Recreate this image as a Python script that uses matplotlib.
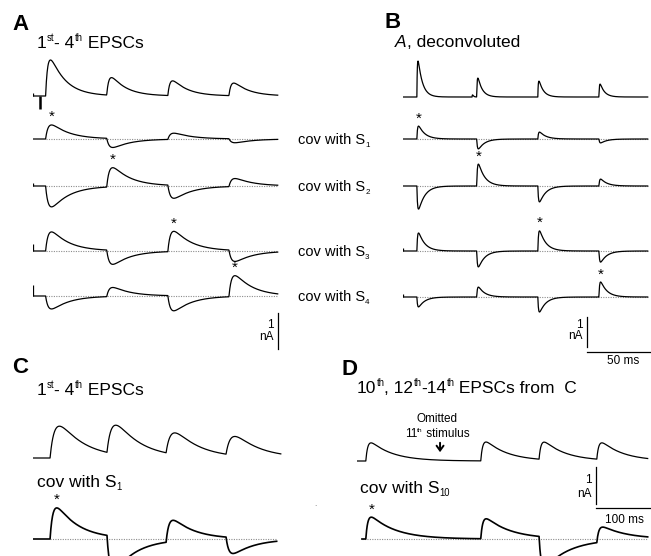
import numpy as np
import matplotlib.pyplot as plt

plt.rcParams['font.family'] = 'Liberation Sans'
plt.rcParams['mathtext.fontset'] = 'custom'
plt.rcParams['mathtext.rm'] = 'Liberation Sans'
plt.rcParams['mathtext.it'] = 'Liberation Sans:italic'
plt.rcParams['mathtext.default'] = 'regular'

# --- данные (мс, нА) ---
# A: 1-4 EPSC и ковариации с S1..S4
a_onsets = [10, 58.5, 107, 155.5]
a_epsc = [1.0, 0.49, 0.41, 0.35]
a_cov = [[0.39, -0.25, 0.17, -0.11],
         [-0.58, 0.53, -0.36, 0.22],
         [0.53, -0.39, 0.56, -0.31],
         [-0.36, 0.25, -0.42, 0.58]]
a_stub = [0, 0.08, 0.19, 0.3]
a_artifact = -0.36

# B: то же после деконволюции
b_onsets = [11, 58.5, 107, 155.5]
b_epsc = [1.2, 0.63, 0.53, 0.43]
b_cov = [[0.43, -0.33, 0.23, -0.13],
         [-0.77, 0.73, -0.53, 0.23],
         [0.6, -0.53, 0.67, -0.37],
         [-0.33, 0.33, -0.5, 0.5]]
b_stub = [0, 0, 0.1, 0.1]
b_glitch_t, b_glitch_amp = 54.8, 0.07

# C: 1-4 EPSC (10 Гц) и ковариация с S1
c_onsets = [31, 134.5, 242, 351]
c_epsc = [0.86, 0.78, 0.58, 0.51]
c_cov = [0.84, -0.9, 0.57, -0.43]

# D: 10, 12-14 EPSC, пропущенный 11-й стимул
d_onsets = [16, 225, 331, 436]
d_epsc = [0.49, 0.51, 0.47, 0.45]
d_cov = [0.59, 0.54, -0.8, 0.4]
d_omitted = 151

W, H = 651, 556
fig = plt.figure(figsize=(W / 100, H / 100), dpi=100)
renderer = fig.canvas.get_renderer()


def ptext(x, y, s, **kw):
    return fig.text(x / W, 1 - y / H, s, **kw)


def rich(x, y, parts, size, ha='left'):
    # parts: (строка, вид) вид: 'n' обычный, 'sup', 'sub', 'it'
    px = size * 100 / 72
    items = []
    for s, kind in parts:
        fs = size * 0.55 if kind in ('sup', 'sub') else size
        dy = {'sup': -0.4 * px, 'sub': 0.18 * px}.get(kind, 0)
        t = ptext(0, y + dy, s, fontsize=fs, va='baseline',
                  style='italic' if kind == 'it' else 'normal')
        items.append(t)
    widths = [t.get_window_extent(renderer=renderer).width for t in items]
    cx = x - (sum(widths) / 2 if ha == 'center' else 0)
    for t, w in zip(items, widths):
        t.set_x(cx / W)
        cx += w


def make_axes(x0, x1, y0, y1, px_ms, px_na):
    ax = fig.add_axes([x0 / W, 1 - y1 / H, (x1 - x0) / W, (y1 - y0) / H])
    ax.set_xlim(0, (x1 - x0) / px_ms)
    ax.set_ylim(0, (y1 - y0) / px_na)
    ax.axis('off')
    return ax


def trace(t, onsets, amps, tr, td):
    # сумма событий: подъём tr, спад td, амплитуда = пик
    sp = tr * np.log((tr + td) / tr)
    norm = (1 - np.exp(-sp / tr)) * np.exp(-sp / td)
    y = np.zeros_like(t)
    for t0, a in zip(onsets, amps):
        s = np.clip(t - t0, 0, None)
        y += a * (1 - np.exp(-s / tr)) * np.exp(-s / td) / norm
    return y


def star(ax, t, y, base, t0, win):
    m = (t >= t0) & (t <= t0 + win)
    i = np.argmax(y[m])
    ax.annotate('*', (t[m][i], base + y[m][i]), xytext=(0, 0.5), textcoords='offset points',
                ha='center', va='bottom', fontsize=11)


def dotted(ax, t0, t1, base):
    ax.plot([t0, t1], [base, base], color='0.55', lw=0.8, ls=(0, (1, 1.2)))


LW = 0.9

# ---------------- A ----------------
A_Y1, A_NA = 356, 36
axA = make_axes(33, 290, 50, A_Y1, 1.26, A_NA)
tA = np.arange(0, 194.4, 0.2)
rows_px = [96, 139, 186, 251, 296]
base = (A_Y1 - rows_px[0]) / A_NA
axA.plot(tA, base + trace(tA, a_onsets, a_epsc, 2.0, 12), color='k', lw=LW)
axA.vlines(0, base, base + 0.08, color='k', lw=LW)
axA.vlines(5.5, base + a_artifact, base, color='k', lw=1.8)
for i, amps in enumerate(a_cov):
    b = (A_Y1 - rows_px[i + 1]) / A_NA
    y = trace(tA, a_onsets, amps, 2.5, 14)
    dotted(axA, a_onsets[0], tA[-1], b)
    axA.plot(tA, b + y, color='k', lw=LW)
    if a_stub[i]:
        axA.vlines(0, b, b + a_stub[i], color='k', lw=LW)
    star(axA, tA, y, b, a_onsets[i], 25)
    rich(298, rows_px[i + 1] + 5, [('cov with S', 'n'), (str(i + 1), 'sub')], 10.5)
# масштаб 1 нА
sb = (A_Y1 - 349) / A_NA
axA.plot([tA[-1], tA[-1]], [sb, sb + 1], color='k', lw=0.9)
ptext(274, 325, '1', fontsize=8.5, ha='right', va='center')
ptext(274, 337, 'nA', fontsize=8.5, ha='right', va='center')

# ---------------- B ----------------
B_Y1, B_NA = 356, 30
axB = make_axes(403, 651, 50, B_Y1, 1.26, B_NA)
tB = np.arange(0, 194.4, 0.2)
rows_px = [97, 139, 186, 251, 297]
base = (B_Y1 - rows_px[0]) / B_NA
yB = trace(tB, b_onsets, b_epsc, 0.4, 3.5) + trace(tB, [b_glitch_t], [b_glitch_amp], 0.3, 0.8)
axB.plot(tB, base + yB, color='k', lw=LW)
for i, amps in enumerate(b_cov):
    b = (B_Y1 - rows_px[i + 1]) / B_NA
    y = trace(tB, b_onsets, amps, 0.6, 5)
    dotted(axB, b_onsets[0], tB[-1], b)
    axB.plot(tB, b + y, color='k', lw=LW)
    if b_stub[i]:
        axB.vlines(0, b, b + b_stub[i], color='k', lw=LW)
    star(axB, tB, y, b, b_onsets[i], 15)
# масштаб 1 нА / 50 мс
tb = (587 - 403) / 1.26
sb = (B_Y1 - 347) / B_NA
axB.plot([tb, tb], [sb, sb + 1], color='k', lw=0.9)
hb = (B_Y1 - 352) / B_NA
axB.plot([tb, tb + 50], [hb, hb], color='k', lw=0.9)
ptext(583, 325, '1', fontsize=8.5, ha='right', va='center')
ptext(583, 336, 'nA', fontsize=8.5, ha='right', va='center')
ptext(623, 361, '50 ms', fontsize=8.5, ha='center', va='center')

# ---------------- C ----------------
C_Y1, C_NA = 620, 37
axC = make_axes(33, 330, 400, C_Y1, 0.55, C_NA)
tC = np.arange(0, 451, 0.5)
base = (C_Y1 - 458) / C_NA
axC.plot(tC, base + trace(tC, c_onsets, c_epsc, 10, 45), color='k', lw=LW)
b = (C_Y1 - 539) / C_NA
tc = tC[tC <= 443]
y = trace(tc, c_onsets, c_cov, 6, 40)
dotted(axC, c_onsets[0], tc[-1], b)
axC.plot(tc, b + y, color='k', lw=1.2)
star(axC, tc, y, b, c_onsets[0], 40)
ptext(315, 506, '.', fontsize=6, color='0.4', ha='center')

# ---------------- D ----------------
D_Y1, D_NA = 620, 37
axD = make_axes(357, 651, 400, D_Y1, 0.55, D_NA)
tD = np.arange(0, 529, 0.5)
base = (D_Y1 - 461) / D_NA
axD.plot(tD, base + trace(tD, d_onsets, d_epsc, 4, 40), color='k', lw=LW)
axD.annotate('', xy=(d_omitted, (D_Y1 - 455) / D_NA), xytext=(d_omitted, (D_Y1 - 440) / D_NA),
             arrowprops=dict(arrowstyle='->, head_width=0.25, head_length=0.35', lw=1.4, color='k'))
b = (D_Y1 - 539) / D_NA
td_ = tD[tD >= 9]
y = trace(td_, d_onsets, d_cov, 4, 45)
dotted(axD, td_[0], td_[-1], b)
axD.plot(td_, b + y, color='k', lw=1.2)
star(axD, td_, y, b, d_onsets[0], 30)
# масштаб 1 нА / 100 мс
tb = (596 - 357) / 0.55
sb = (D_Y1 - 504) / D_NA
axD.plot([tb, tb], [sb, sb + 1], color='k', lw=0.9)
hb = (D_Y1 - 508) / D_NA
axD.plot([tb, tb + 100], [hb, hb], color='k', lw=0.9)
ptext(592, 480, '1', fontsize=8.5, ha='right', va='center')
ptext(592, 494, 'nA', fontsize=8.5, ha='right', va='center')
ptext(624, 520, '100 ms', fontsize=8.5, ha='center', va='center')

# ---------------- подписи ----------------
ptext(12, 30, 'A', fontsize=16, fontweight='bold', va='baseline')
rich(37, 48, [('1', 'n'), ('st', 'sup'), ('- 4', 'n'), ('th', 'sup'), (' EPSCs', 'n')], 12.5)
ptext(384, 28, 'B', fontsize=16, fontweight='bold', va='baseline')
rich(395, 47, [('A', 'it'), (', deconvoluted', 'n')], 12.5)
ptext(12, 373, 'C', fontsize=16, fontweight='bold', va='baseline')
rich(37, 395, [('1', 'n'), ('st', 'sup'), ('- 4', 'n'), ('th', 'sup'), (' EPSCs', 'n')], 12.5)
rich(37, 487, [('cov with S', 'n'), ('1', 'sub')], 12.5)
ptext(342, 375, 'D', fontsize=16, fontweight='bold', va='baseline')
rich(357, 393, [('10', 'n'), ('th', 'sup'), (', 12', 'n'), ('th', 'sup'), ('-14', 'n'),
                ('th', 'sup'), (' EPSCs from  C', 'n')], 12.5)
rich(437, 422, [('Omitted', 'n')], 8.5, ha='center')
rich(437, 437, [('11', 'n'), ('th', 'sup'), (' stimulus', 'n')], 8.5, ha='center')
rich(360, 493, [('cov with S', 'n'), ('10', 'sub')], 12.5)

fig.savefig('out.png', dpi=100)
